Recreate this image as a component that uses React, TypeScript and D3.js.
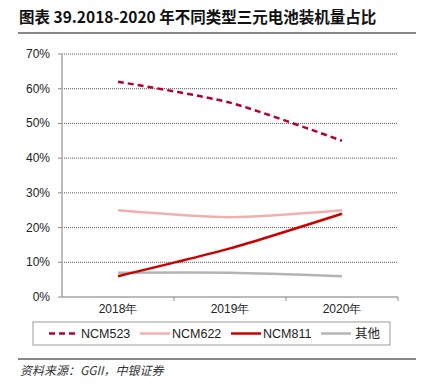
import * as React from 'react';
import * as d3 from 'd3';

const years = ['2018年', '2019年', '2020年'];
const ncm523 = [62, 56, 45];
const ncm622 = [25, 23, 25];
const ncm811 = [6, 14, 24];
const others = [7, 7, 6];
const yTicks = [0, 10, 20, 30, 40, 50, 60, 70];

const seriesNames = ['NCM523', 'NCM622', 'NCM811', '其他'];
const seriesValues = [ncm523, ncm622, ncm811, others];
const seriesColors = ['#b8002b', '#f0b0b0', '#cc0000', '#b4b4b4'];
const seriesDash = ['6,4', null, null, null];

const W = 428;
const H = 385;
const plot = {left: 62, right: 398, top: 54, bottom: 297};
const font = 'Arial, "Liberation Sans", sans-serif';
const cjk = '"Noto Sans CJK SC", sans-serif';

export default function App() {
    const xBand = d3.scaleBand<string>().domain(years).range([plot.left, plot.right]);
    const xCenter = (c: string) => (xBand(c) as number) + xBand.bandwidth() / 2;
    const y = d3.scaleLinear().domain([0, 70]).range([plot.bottom, plot.top]);
    // excel-style smoothing
    const line = d3.line<number>()
        .x((_d, i) => xCenter(years[i]))
        .y((d) => y(d))
        .curve(d3.curveCardinal.tension(0.3));

    const legendX = [49, 140, 231, 321];

    return (
        <svg width={W} height={H} style={{position: 'absolute', left: 0, top: 0}} xmlns="http://www.w3.org/2000/svg">
            <rect width={W} height={H} fill="#fff"/>
            <text x={19} y={23} fontFamily={cjk} fontWeight="bold" fontSize={15.5} fill="#111">
                图表 39.2018-2020 年不同类型三元电池装机量占比
            </text>
            <line x1={18} x2={416} y1={33} y2={33} stroke="#888" strokeWidth={2}/>

            {yTicks.map((t) => (
                <g key={t}>
                    {t > 0 && <line x1={plot.left} x2={plot.right} y1={y(t)} y2={y(t)}
                                    stroke="#555" strokeWidth={1} strokeDasharray="1,1"/>}
                    <line x1={plot.left - 4} x2={plot.left} y1={y(t)} y2={y(t)} stroke="#888"/>
                    <text x={plot.left - 12} y={y(t) + 4} textAnchor="end" fontFamily={font} fontSize={12} fill="#222">
                        {t}%
                    </text>
                </g>
            ))}
            <line x1={plot.left} x2={plot.left} y1={plot.top} y2={plot.bottom} stroke="#aaa" strokeWidth={1.5}/>
            <line x1={plot.left} x2={plot.right} y1={plot.bottom} y2={plot.bottom} stroke="#777" strokeWidth={1}/>
            {years.map((c) => (
                <g key={c}>
                    <line x1={(xBand(c) as number) + xBand.bandwidth()} x2={(xBand(c) as number) + xBand.bandwidth()}
                          y1={plot.bottom} y2={plot.bottom + 4} stroke="#888"/>
                    <text x={xCenter(c)} y={plot.bottom + 16} textAnchor="middle" fontFamily={font} fontSize={12} fill="#222">
                        {c}
                    </text>
                </g>
            ))}

            {seriesValues.slice().reverse().map((vals, ri) => {
                const i = seriesValues.length - 1 - ri;
                return (
                    <path key={seriesNames[i]} d={line(vals) || ''} fill="none" stroke={seriesColors[i]}
                          strokeWidth={2.5} strokeDasharray={seriesDash[i] || undefined}/>
                );
            })}

            <rect x={33} y={322} width={357} height={23} fill="none" stroke="#999" strokeWidth={1}/>
            {seriesNames.map((n, i) => (
                <g key={n}>
                    <line x1={legendX[i]} x2={legendX[i] + 30} y1={333.5} y2={333.5} stroke={seriesColors[i]}
                          strokeWidth={2.5} strokeDasharray={seriesDash[i] || undefined}/>
                    <text x={legendX[i] + (i === 3 ? 34 : 32)} y={338} fontFamily={i === 3 ? cjk : font}
                          fontSize={12.5} fill="#222">{n}</text>
                </g>
            ))}

            <line x1={18} x2={416} y1={359} y2={359} stroke="#888" strokeWidth={2}/>
            <text x={20} y={375} fontFamily={cjk} fontStyle="italic" fontSize={12} fill="#333">
                资料来源：GGII，中银证券
            </text>
        </svg>
    );
}
